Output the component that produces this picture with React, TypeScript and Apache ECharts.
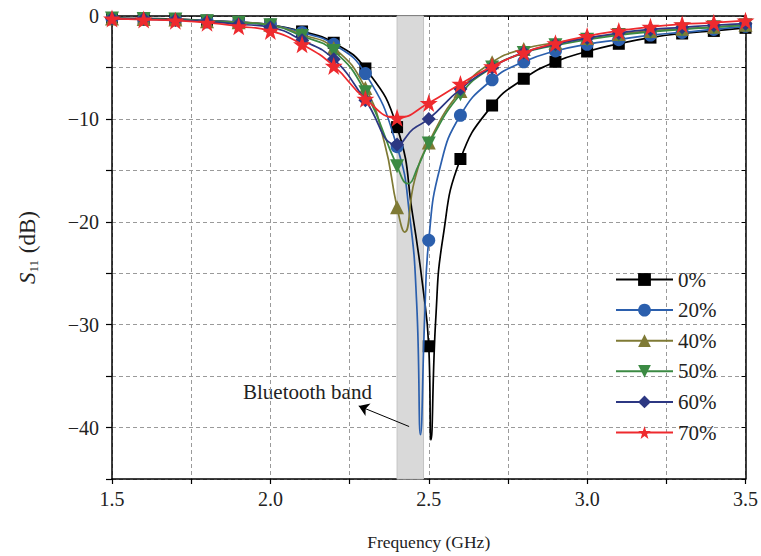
import React, { useEffect, useRef } from "react";
import * as echarts from "echarts";

// Marker frequencies (GHz)
const freqs = [1.5, 1.6, 1.7, 1.8, 1.9, 2.0, 2.1, 2.2, 2.3, 2.4, 2.5, 2.6, 2.7, 2.8, 2.9, 3.0, 3.1, 3.2, 3.3, 3.4, 3.5];

// S11 (dB) at marker frequencies
const s0 = [-0.2, -0.25, -0.3, -0.45, -0.6, -0.85, -1.5, -2.6, -5.1, -10.8, -32.1, -13.9, -8.7, -6.1, -4.45, -3.45, -2.7, -2.1, -1.7, -1.45, -1.15];
const s20 = [-0.25, -0.3, -0.35, -0.45, -0.6, -0.85, -1.6, -2.75, -5.6, -12.7, -21.8, -9.65, -6.2, -4.45, -3.4, -2.75, -2.3, -1.85, -1.6, -1.3, -1.0];
const s40 = [-0.25, -0.3, -0.35, -0.5, -0.6, -0.85, -1.8, -3.1, -7.0, -18.6, -12.3, -7.3, -4.5, -3.2, -2.6, -2.15, -1.75, -1.45, -1.25, -1.05, -0.85];
const s50 = [-0.25, -0.3, -0.35, -0.5, -0.65, -0.9, -1.95, -3.4, -7.4, -14.6, -12.4, -7.6, -5.0, -3.6, -2.85, -2.3, -1.85, -1.55, -1.3, -1.1, -0.9];
const s60 = [-0.25, -0.3, -0.4, -0.55, -0.8, -1.1, -2.35, -4.2, -8.2, -12.5, -10.0, -7.1, -5.0, -3.55, -2.75, -2.15, -1.65, -1.3, -1.1, -0.9, -0.75];
const s70 = [-0.25, -0.35, -0.45, -0.65, -1.0, -1.45, -2.75, -4.85, -8.05, -9.9, -8.45, -6.6, -4.9, -3.55, -2.65, -1.95, -1.45, -1.05, -0.8, -0.65, -0.45];

// Extra curve points read near the resonances (line only, no marker)
const x0: [number, number][] = [[2.45, -19.5], [2.48, -26], [2.507, -41.2], [2.522, -29.5], [2.545, -21.5]];
const x20: [number, number][] = [[2.44, -19.5], [2.462, -28], [2.474, -40.7], [2.487, -29.5], [2.535, -14.8]];
const x40: [number, number][] = [[2.36, -12.3], [2.424, -21.0], [2.455, -16.0]];
const x50: [number, number][] = [[2.434, -16.3], [2.468, -14.5]];
const x60: [number, number][] = [[2.45, -11.0]];
const x70: [number, number][] = [];

const names = ["0%", "20%", "40%", "50%", "60%", "70%"];
const colors = ["#000000", "#2b5fad", "#7f7a35", "#3b8a43", "#2c3782", "#ee2a2e"];
const bandRange = [2.4, 2.4835];
const arrowFrom = [2.438, -39.9];
const arrowTo = [2.279, -37.9];

const STAR = "path://M50,0 L61.8,35.1 L98.1,35.1 L68.8,56.7 L79.4,91 L50,70 L20.6,91 L31.2,56.7 L1.9,35.1 L38.2,35.1 Z";
const TRI_DOWN = "path://M0,0 L10,0 L5,9 Z";
const TRI_UP = "path://M5,0 L10,9 L0,9 Z";
const symbols = ["rect", "circle", TRI_UP, TRI_DOWN, "diamond", STAR];
const symbolSizes = [12, 13, 14, 14, 14, 18];

const FONT = "'Liberation Serif', 'Times New Roman', serif";

function buildData(vals: number[], extra: [number, number][]) {
  const pts: any[] = freqs.map((f, i) => ({ value: [f, vals[i]] }));
  extra.forEach((p) => pts.push({ value: p, symbol: "none" }));
  pts.sort((a, b) => a.value[0] - b.value[0]);
  return pts;
}

export default function App() {
  const ref = useRef<HTMLDivElement>(null);
  useEffect(() => {
    if (!ref.current) return;
    const chart = echarts.init(ref.current, undefined, { renderer: "svg" });
    const allVals = [s0, s20, s40, s50, s60, s70];
    const allExtra = [x0, x20, x40, x50, x60, x70];
    const series: any[] = names.map((n, i) => {
      const s: any = {
        type: "line",
        name: n,
        data: buildData(allVals[i], allExtra[i]),
        smooth: 0.5,
        symbol: symbols[i],
        symbolSize: symbolSizes[i],
        showAllSymbol: true,
        lineStyle: { color: colors[i], width: 1.7 },
        itemStyle: { color: colors[i], borderWidth: 0 },
        z: 3 + i,
        xAxisIndex: 0,
        yAxisIndex: 0,
      };
      if (i === 0) {
        s.markArea = {
          silent: true,
          itemStyle: { color: "#d9d9d9", borderColor: "#c4c4c4", borderWidth: 1 },
          data: [[{ xAxis: bandRange[0] }, { xAxis: bandRange[1] }]],
        };
      }
      if (i === names.length - 1) {
        s.markLine = {
          silent: true,
          symbol: ["none", "arrow"],
          symbolSize: 10,
          lineStyle: { color: "#000", width: 1, type: "solid" },
          itemStyle: { color: "#000" },
          label: { show: false },
          data: [[{ coord: arrowFrom }, { coord: arrowTo }]],
        };
      }
      return s;
    });

    const half = (v: number) => Math.abs(v * 2 - Math.round(v * 2)) < 1e-6;

    chart.setOption({
      animation: false,
      backgroundColor: "#ffffff",
      textStyle: { fontFamily: FONT },
      grid: { left: 112, top: 16, width: 637, height: 467, containLabel: false },
      legend: {
        orient: "vertical",
        left: 610,
        top: 264,
        itemWidth: 57,
        itemHeight: 16,
        itemGap: 9.6,
        data: names,
        textStyle: { fontFamily: FONT, fontSize: 21, color: "#222" },
      },
      xAxis: [
        {
          type: "value",
          min: 1.5,
          max: 3.5,
          interval: 0.25,
          position: "bottom",
          name: "Frequency (GHz)",
          nameLocation: "middle",
          nameGap: 54,
          nameTextStyle: { fontFamily: FONT, fontSize: 17.5, color: "#222" },
          axisLine: { show: true, onZero: false, lineStyle: { color: "#000", width: 1.5 } },
          axisTick: { show: true, length: 5, lineStyle: { color: "#000", width: 1.2 } },
          axisLabel: {
            interval: 0,
            margin: 10,
            fontFamily: FONT,
            fontSize: 20,
            color: "#222",
            formatter: (v: number) => (half(v) ? v.toFixed(1) : ""),
          },
          splitLine: { show: true, lineStyle: { color: "#9a9a9a", type: [4, 3], width: 1 } },
        },
        {
          type: "value",
          min: 1.5,
          max: 3.5,
          interval: 0.25,
          position: "top",
          axisLine: { show: true, onZero: false, lineStyle: { color: "#000", width: 1.5 } },
          axisTick: { show: true, inside: true, length: 4, lineStyle: { color: "#000" } },
          axisLabel: { show: false },
          splitLine: { show: false },
        },
      ],
      yAxis: [
        {
          type: "value",
          min: -45,
          max: 0,
          interval: 5,
          position: "left",
          name: "{i|S}{s|11} (dB)",
          nameLocation: "middle",
          nameGap: 72,
          nameTextStyle: {
            fontFamily: FONT,
            fontSize: 23,
            color: "#222",
            rich: {
              i: { fontFamily: FONT, fontStyle: "italic", fontSize: 23, color: "#222", lineHeight: 26 },
              s: { fontFamily: FONT, fontSize: 13, color: "#222", verticalAlign: "bottom", lineHeight: 26, padding: [8, 1, 0, 0] },
            },
          },
          axisLine: { show: true, onZero: false, lineStyle: { color: "#000", width: 1.5 } },
          axisTick: { show: true, length: 6, lineStyle: { color: "#000", width: 1.2 } },
          axisLabel: {
            interval: 0,
            margin: 13,
            fontFamily: FONT,
            fontSize: 20,
            color: "#222",
            formatter: (v: number) => (v % 10 === 0 ? (v < 0 ? "\u2212" + -v : "0") : ""),
          },
          splitLine: { show: true, lineStyle: { color: "#9a9a9a", type: [4, 3], width: 1 } },
        },
        {
          type: "value",
          min: -45,
          max: 0,
          interval: 5,
          position: "right",
          axisLine: { show: true, onZero: false, lineStyle: { color: "#000", width: 1.5 } },
          axisTick: { show: true, inside: true, length: 4, lineStyle: { color: "#000" } },
          axisLabel: { show: false },
          splitLine: { show: false },
        },
      ],
      graphic: [
        {
          type: "text",
          left: 243,
          top: 381,
          style: { text: "Bluetooth band", fontFamily: FONT, fontSize: 21, fill: "#222" },
        },
      ],
      series,
    });
    return () => chart.dispose();
  }, []);
  return <div ref={ref} style={{ position: "fixed", left: 0, top: 0, width: 761, height: 556 }} />;
}
